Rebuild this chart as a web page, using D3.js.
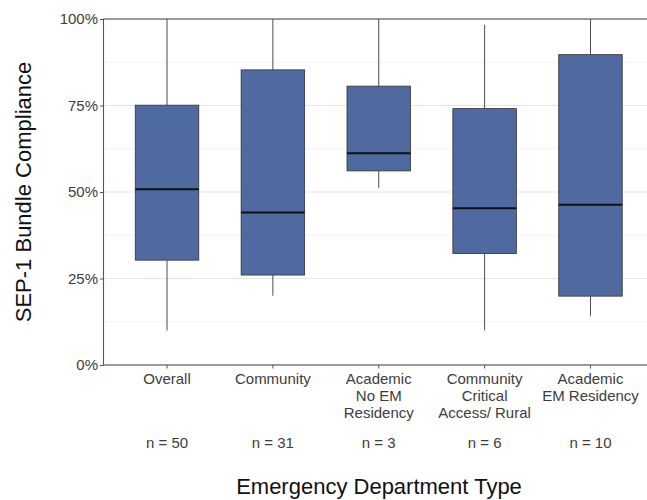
<!DOCTYPE html>
<html>
<head>
<meta charset="utf-8">
<script src="https://cdn.jsdelivr.net/npm/d3@7"></script>
<style>
  body { margin: 0; background: #fff; }
  svg { font-family: "Liberation Sans", Arial, sans-serif; }
</style>
</head>
<body>
<div id="chart"></div>
<script>
// categories and box stats
const categories = ["Overall", "Community", "Academic No EM", "Community Critical", "Academic EM"];
const catLabels = [["Overall"], ["Community"], ["Academic", "No EM", "Residency"], ["Community", "Critical", "Access/ Rural"], ["Academic", "EM Residency"]];
const nCounts = [50, 31, 3, 6, 10];
const whiskerLow = [0.10, 0.20, 0.512, 0.10, 0.142];
const q1 = [0.303, 0.26, 0.561, 0.322, 0.199];
const medians = [0.508, 0.441, 0.612, 0.453, 0.463];
const q3 = [0.751, 0.853, 0.806, 0.741, 0.897];
const whiskerHigh = [1.0, 1.0, 1.0, 0.983, 1.0];
const yTicks = [0, 0.25, 0.5, 0.75, 1];
const yMinor = [0.125, 0.375, 0.625, 0.875];

const width = 647, height = 500;
const margin = { top: 19, right: -7, bottom: 135, left: 103.5 };

const data = categories.map((c, i) => ({
    cat: c, label: catLabels[i], n: nCounts[i],
    lo: whiskerLow[i], q1: q1[i], med: medians[i], q3: q3[i], hi: whiskerHigh[i]
}));

const svg = d3.select("#chart").append("svg")
    .attr("width", width)
    .attr("height", height);

const x = d3.scaleBand()
    .domain(categories)
    .range([margin.left, width - margin.right])
    .paddingOuter(0.1)
    .paddingInner(0);

const y = d3.scaleLinear()
    .domain([0, 1])
    .range([height - margin.bottom, margin.top]);

const x0 = margin.left, x1 = width - margin.right;

// grid
svg.append("g").selectAll("line.minor").data(yMinor).enter()
    .append("line")
    .attr("x1", x0).attr("x2", x1)
    .attr("y1", d => y(d)).attr("y2", d => y(d))
    .attr("stroke", "#ebebeb").attr("stroke-width", 0.6);

svg.append("g").selectAll("line.major").data(yTicks).enter()
    .append("line")
    .attr("x1", x0).attr("x2", x1)
    .attr("y1", d => y(d)).attr("y2", d => y(d))
    .attr("stroke", "#e6e6e6").attr("stroke-width", 1.1);

const boxW = x.bandwidth() * 0.6;
const cx = d => x(d.cat) + x.bandwidth() / 2;

const g = svg.append("g").selectAll("g").data(data).enter().append("g");

g.append("line")
    .attr("x1", cx).attr("x2", cx)
    .attr("y1", d => y(d.hi)).attr("y2", d => y(d.q3))
    .attr("stroke", "#4d4d4d").attr("stroke-width", 1);

g.append("line")
    .attr("x1", cx).attr("x2", cx)
    .attr("y1", d => y(d.q1)).attr("y2", d => y(d.lo))
    .attr("stroke", "#4d4d4d").attr("stroke-width", 1);

g.append("rect")
    .attr("x", d => cx(d) - boxW / 2)
    .attr("width", boxW)
    .attr("y", d => y(d.q3))
    .attr("height", d => y(d.q1) - y(d.q3))
    .attr("fill", "#4f6aa1")
    .attr("stroke", "#333")
    .attr("stroke-width", 0.8);

g.append("line")
    .attr("x1", d => cx(d) - boxW / 2).attr("x2", d => cx(d) + boxW / 2)
    .attr("y1", d => y(d.med)).attr("y2", d => y(d.med))
    .attr("stroke", "#111").attr("stroke-width", 2);

// panel border
svg.append("rect")
    .attr("x", x0).attr("y", margin.top)
    .attr("width", x1 - x0).attr("height", y(0) - margin.top)
    .attr("fill", "none")
    .attr("stroke", "#555").attr("stroke-width", 1.1);

// y axis
const yAxis = svg.append("g")
    .attr("transform", `translate(${x0},0)`)
    .call(d3.axisLeft(y).tickValues(yTicks).tickFormat(d3.format(".0%")).tickSize(3.5).tickPadding(2));
yAxis.select(".domain").remove();
yAxis.selectAll(".tick line").attr("stroke", "#555");
yAxis.selectAll(".tick text").attr("fill", "#3d3d3d").style("font-size", "15px")
    .attr("font-family", "Liberation Sans, Arial, sans-serif");

// x axis
const xAxis = svg.append("g")
    .attr("transform", `translate(0,${y(0)})`)
    .call(d3.axisBottom(x).tickSize(3.5).tickFormat(""));
xAxis.select(".domain").remove();
xAxis.selectAll(".tick line").attr("stroke", "#555");

const lab = svg.append("g").selectAll("text.cat").data(data).enter()
    .append("text")
    .attr("text-anchor", "middle")
    .attr("fill", "#3d3d3d")
    .style("font-size", "15px");
lab.each(function (d) {
    const t = d3.select(this);
    d.label.forEach((s, k) => {
        t.append("tspan").attr("x", cx(d)).attr("y", 384 + k * 17).text(s);
    });
});

svg.append("g").selectAll("text.n").data(data).enter()
    .append("text")
    .attr("x", cx)
    .attr("y", 448)
    .attr("text-anchor", "middle")
    .attr("fill", "#3d3d3d")
    .style("font-size", "15px")
    .text(d => `n = ${d.n}`);

// titles
svg.append("text")
    .attr("x", 379)
    .attr("y", 494)
    .attr("text-anchor", "middle")
    .attr("fill", "#111")
    .style("font-size", "22px")
    .text("Emergency Department Type");

svg.append("text")
    .attr("transform", `translate(31,${(y(0) + y(1)) / 2}) rotate(-90)`)
    .attr("text-anchor", "middle")
    .attr("fill", "#111")
    .style("font-size", "22px")
    .text("SEP-1 Bundle Compliance");
</script>
</body>
</html>
